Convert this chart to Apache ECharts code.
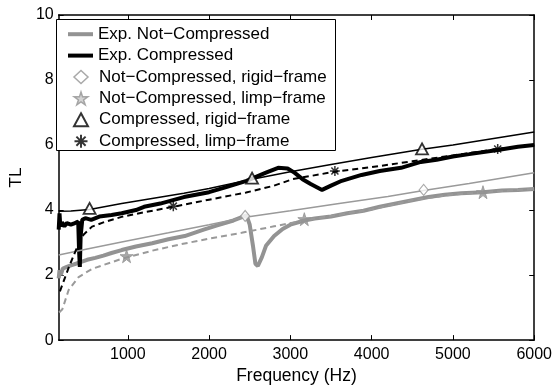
<!DOCTYPE html>
<html>
<head>
<meta charset="utf-8">
<script src="https://cdn.jsdelivr.net/npm/echarts@6/dist/echarts.min.js"></script>
<style>
  html, body { margin: 0; padding: 0; background: #fff; }
  #chart { width: 555px; height: 390px; }
</style>
</head>
<body>
<div id="chart"></div>
<script>
const xTicks = [1000, 2000, 3000, 4000, 5000, 6000];

// measured curves (Hz, TL)
const expNotCompressed = [
  [150, 1.9], [160, 2.15], [175, 2.0], [200, 2.2], [250, 2.25], [300, 2.3], [400, 2.38],
  [500, 2.47], [600, 2.53], [700, 2.6], [800, 2.68], [925, 2.77], [1100, 2.88],
  [1300, 2.98], [1500, 3.1], [1700, 3.2], [1934, 3.4], [2100, 3.53], [2300, 3.68],
  [2420, 3.8], [2460, 3.84], [2500, 3.55], [2540, 2.9], [2570, 2.35], [2600, 2.28],
  [2650, 2.55], [2700, 2.9], [2800, 3.2], [2905, 3.42], [3000, 3.55], [3172, 3.68],
  [3300, 3.74], [3500, 3.8], [3700, 3.9], [3900, 3.98], [4100, 4.1], [4300, 4.2],
  [4500, 4.3], [4700, 4.4], [4900, 4.47], [5100, 4.52], [5370, 4.55], [5600, 4.6],
  [5800, 4.62], [6000, 4.65]
];
const expCompressed = [
  [150, 3.4], [160, 3.9], [170, 3.5], [190, 3.62], [220, 3.5], [250, 3.6], [300, 3.55],
  [350, 3.6], [390, 3.65], [400, 2.8], [410, 2.25], [420, 3.2], [440, 3.7], [478, 3.75],
  [550, 3.7], [650, 3.8], [800, 3.85], [925, 3.9], [1100, 4.0], [1200, 4.1], [1400, 4.2],
  [1690, 4.4], [2000, 4.55], [2200, 4.7], [2461, 4.9], [2700, 5.15], [2850, 5.3],
  [2966, 5.28], [3050, 5.15], [3150, 4.95], [3250, 4.8], [3390, 4.62], [3500, 4.75],
  [3633, 4.9], [3876, 5.08], [4100, 5.2], [4362, 5.3], [4605, 5.48], [4800, 5.55],
  [5000, 5.65], [5200, 5.72], [5551, 5.85], [5800, 5.95], [6000, 6.0]
];

// model curves
const ncRigid = [
  [150, 2.62], [500, 2.8], [925, 3.02], [1500, 3.3], [2000, 3.55], [2444, 3.78],
  [3000, 3.98], [3600, 4.2], [4200, 4.42], [4640, 4.6], [5200, 4.82], [6000, 5.15]
];
const ncLimp = [
  [155, 0.85], [195, 0.95], [272, 1.54], [395, 1.94], [560, 2.19], [925, 2.5],
  [1300, 2.75], [1655, 2.95], [2000, 3.12], [2400, 3.3], [2800, 3.5], [3172, 3.68],
  [3500, 3.82], [4000, 4.02], [4500, 4.3], [5000, 4.48], [5370, 4.55], [6000, 4.65]
];
const cRigid = [
  [150, 3.96], [300, 3.97], [530, 4.02], [925, 4.2], [1690, 4.52], [2000, 4.66],
  [2529, 4.95], [3000, 5.18], [3500, 5.4], [4000, 5.62], [4600, 5.86], [5000, 6.0],
  [6000, 6.4]
];
const cLimp = [
  [165, 1.5], [276, 2.25], [357, 2.74], [455, 3.24], [560, 3.49], [700, 3.62],
  [923, 3.79], [1200, 3.93], [1560, 4.1], [1800, 4.22], [2000, 4.32], [2457, 4.54],
  [2800, 4.75], [3027, 4.95], [3548, 5.18], [4000, 5.32], [4500, 5.5], [5000, 5.68],
  [5551, 5.88], [6000, 6.0]
];

// markers
const ncRigidMarks = [[2444, 3.82], [4640, 4.62]];
const ncLimpMarks = [[985, 2.58], [3172, 3.72], [5370, 4.55]];
const cRigidMarks = [[530, 4.05], [2529, 4.98], [4620, 5.88]];
const cLimpMarks = [[1560, 4.12], [3548, 5.2], [5551, 5.88]];

const names = [
  'Exp. Not−Compressed',
  'Exp. Compressed',
  'Not−Compressed, rigid−frame',
  'Not−Compressed, limp−frame',
  'Compressed, rigid−frame',
  'Compressed, limp−frame'
];

const GRAY = '#939393';
const FONT = 'Liberation Sans, Arial, sans-serif';

const starPath = 'path://M0,-10L2.245,-3.09L9.51,-3.09L3.633,1.18L5.88,8.09L0,3.82L-5.88,8.09L-3.633,1.18L-9.51,-3.09L-2.245,-3.09Z';
const asteriskPath = 'path://M-1.5,-10L1.5,-10L1.5,10L-1.5,10Z' +
  'M-10,-1.5L10,-1.5L10,1.5L-10,1.5Z' +
  'M-6.01,-8.13L8.13,6.01L6.01,8.13L-8.13,-6.01Z' +
  'M-6.01,8.13L-8.13,6.01L6.01,-8.13L8.13,-6.01Z';

function line(name, data, color, width, dashed) {
  return {
    name: name,
    type: 'line',
    data: data,
    showSymbol: false,
    color: color,
    lineStyle: { color: color, width: width, type: dashed ? [6, 4] : 'solid' },
    silent: true
  };
}

function marks(name, data, symbol, size, style) {
  return {
    name: name,
    type: 'scatter',
    data: data,
    symbol: symbol,
    symbolSize: size,
    itemStyle: style,
    z: 5,
    silent: true
  };
}

const chart = echarts.init(document.getElementById('chart'));

const axisCommon = {
  axisLine: { show: true, onZero: false, lineStyle: { color: '#000', width: 1.5 } },
  axisTick: { show: true, inside: true, length: 5, lineStyle: { color: '#000', width: 1 } },
  splitLine: { show: false }
};

const legendText = { fontSize: 17, color: '#000', lineHeight: 21.4, fontFamily: FONT };

chart.setOption({
  animation: false,
  textStyle: { fontFamily: FONT },
  grid: { left: 54, right: 20, top: 15, bottom: 42 },
  xAxis: [
    Object.assign({}, axisCommon, {
      type: 'value', min: 150, max: 6000, position: 'bottom',
      name: 'Frequency (Hz)', nameLocation: 'middle', nameGap: 22,
      nameTextStyle: { fontSize: 17.5, color: '#000', fontFamily: FONT },
      axisTick: Object.assign({}, axisCommon.axisTick, { customValues: xTicks }),
      axisLabel: {
        customValues: xTicks, fontSize: 16, color: '#000', margin: 6, fontFamily: FONT,
        formatter: (v) => String(v)
      }
    }),
    Object.assign({}, axisCommon, {
      type: 'value', min: 150, max: 6000, position: 'top',
      axisTick: Object.assign({}, axisCommon.axisTick, { customValues: xTicks }),
      axisLabel: { show: false }
    })
  ],
  yAxis: [
    Object.assign({}, axisCommon, {
      type: 'value', min: 0, max: 10, interval: 2, position: 'left',
      name: 'TL', nameLocation: 'middle', nameGap: 28, nameRotate: 90,
      nameTextStyle: { fontSize: 17, color: '#000', fontFamily: FONT },
      axisLabel: { fontSize: 16, color: '#000', margin: 5, fontFamily: FONT }
    }),
    Object.assign({}, axisCommon, {
      type: 'value', min: 0, max: 10, interval: 2, position: 'right',
      axisLabel: { show: false }
    })
  ],
  graphic: [{
    type: 'rect', z: 10,
    shape: { x: 56.5, y: 19.5, width: 279, height: 131 },
    style: { fill: '#fff', stroke: '#000', lineWidth: 1 }
  }],
  legend: [
    {
      z: 20, orient: 'vertical', left: 63, top: 18.5, itemGap: 0,
      itemWidth: 25, itemHeight: 4, icon: 'rect',
      textStyle: legendText,
      data: [names[0], names[1]],
      selectedMode: false
    },
    {
      z: 20, orient: 'vertical', left: 68, top: 61.3, itemGap: 0,
      itemWidth: 14, itemHeight: 13,
      textStyle: Object.assign({}, legendText, { padding: [0, 0, 0, 6] }),
      data: [
        { name: names[2], itemStyle: { color: '#fff', borderColor: GRAY, borderWidth: 1.5 } },
        { name: names[3], itemStyle: { color: '#c8c8c8', borderColor: GRAY, borderWidth: 1.5 } },
        { name: names[4], itemStyle: { color: '#fff', borderColor: '#000', borderWidth: 2 } },
        { name: names[5], itemStyle: { color: '#000', borderWidth: 0 } }
      ],
      selectedMode: false
    }
  ],
  series: [
    line(names[0], expNotCompressed, GRAY, 4, false),
    line(names[1], expCompressed, '#000', 4, false),
    line('ncRigidLine', ncRigid, '#9a9a9a', 1.5, false),
    line('ncLimpLine', ncLimp, '#9a9a9a', 2, true),
    line('cRigidLine', cRigid, '#000', 1.5, false),
    line('cLimpLine', cLimp, '#000', 2, true),
    marks(names[2], ncRigidMarks, 'diamond', [9, 11], { color: '#fff', borderColor: GRAY, borderWidth: 1.2 }),
    marks(names[3], ncLimpMarks, starPath, 13, { color: GRAY, borderColor: GRAY, borderWidth: 1 }),
    marks(names[4], cRigidMarks, 'triangle', [12, 11], { color: '#fff', borderColor: '#000', borderWidth: 1.8 }),
    marks(names[5], cLimpMarks, asteriskPath, 10, { color: '#000' })
  ]
});
</script>
</body>
</html>
